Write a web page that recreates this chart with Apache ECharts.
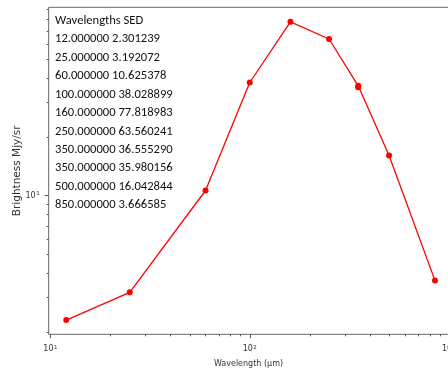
<!DOCTYPE html>
<html><head><meta charset="utf-8">
<script src="https://cdn.jsdelivr.net/npm/echarts@6/dist/echarts.min.js"></script>
<style>html,body{margin:0;padding:0;background:#fff}#c{width:448px;height:371px}</style>
</head><body><div id="c"></div>
<script>
const wavelengths = [12, 25, 60, 100, 160, 250, 350, 350, 500, 850];
const brightness = [2.301239, 3.192072, 10.625378, 38.028899, 77.818983, 63.560241, 36.555290, 35.980156, 16.042844, 3.666585];
const xMajorTicks = [10, 100, 1000];
const xMinorTicks = [20, 30, 40, 50, 60, 70, 80, 90, 200, 300, 400, 500, 600, 700, 800, 900];
const yMajorTicks = [10];
const yMinorTicks = [2, 3, 4, 5, 6, 7, 8, 9, 20, 30, 40, 50, 60, 70, 80, 90];

const infoLines = ['Wavelengths SED'].concat(
  wavelengths.map((w, i) => w.toFixed(6) + ' ' + brightness[i].toFixed(6))
);

const fmt = v => '{b|10}{s|' + Math.round(Math.log10(v)) + '}';
const rich = {
  b: {fontFamily: 'DejaVu Sans', fontSize: 8, color: '#333', lineHeight: 10},
  s: {fontFamily: 'DejaVu Sans', fontSize: 5.5, color: '#333', lineHeight: 10, verticalAlign: 'top', padding: [0, 0, 0, 0.5]}
};
const XMIN = 9.8, XMAX = 1050, YMIN = 1.945, YMAX = 92.4;
const tickLine = {color: '#555', width: 1};
const LINE_STEP = 18.45;

const chart = echarts.init(document.getElementById('c'));
chart.setOption({
  animation: false,
  graphic: infoLines.map((t, i) => ({
    type: 'text', x: 55, y: 20.7 + i * LINE_STEP, z: 10,
    style: {text: t, fontFamily: 'Carlito, Lato, sans-serif', fontSize: 12.6, fill: '#111', verticalAlign: 'middle', align: 'left'}
  })),
  grid: {left: 48.7, top: 7.3, width: 404.6, height: 327, outerBoundsMode: 'none', containLabel: false,
    show: true, borderColor: '#666', borderWidth: 1, backgroundColor: 'transparent'},
  xAxis: [{
    type: 'log', min: XMIN, max: XMAX, position: 'bottom',
    name: 'Wavelength (\u00b5m)', nameLocation: 'middle', nameGap: 26, nameMoveOverlap: false,
    nameTextStyle: {fontFamily: 'DejaVu Sans', fontSize: 8, color: '#333', padding: [0, 0, 0, -5]},
    axisLine: {show: false},
    axisTick: {show: true, length: 4, lineStyle: tickLine, customValues: xMajorTicks},
    axisLabel: {customValues: xMajorTicks, formatter: fmt, rich: rich, margin: 10, hideOverlap: false},
    splitLine: {show: false}, minorTick: {show: false}
  }, {
    type: 'log', min: XMIN, max: XMAX, position: 'bottom',
    axisLine: {show: false},
    axisTick: {show: true, length: 2, lineStyle: tickLine, customValues: xMinorTicks},
    axisLabel: {show: false}, splitLine: {show: false}
  }],
  yAxis: [{
    type: 'log', min: YMIN, max: YMAX, position: 'left',
    name: 'Brightness Mjy/sr', nameLocation: 'middle', nameGap: 26, nameMoveOverlap: false,
    nameTextStyle: {fontFamily: 'DejaVu Sans', fontSize: 10.5, color: '#333'},
    axisLine: {show: false},
    axisTick: {show: true, length: 4, lineStyle: tickLine, customValues: yMajorTicks},
    axisLabel: {customValues: yMajorTicks, formatter: fmt, rich: rich, margin: 9},
    splitLine: {show: false}
  }, {
    type: 'log', min: YMIN, max: YMAX, position: 'left',
    axisLine: {show: false},
    axisTick: {show: true, length: 2, lineStyle: tickLine, customValues: yMinorTicks},
    axisLabel: {show: false}, splitLine: {show: false}
  }],
  series: [{
    type: 'line', xAxisIndex: 0, yAxisIndex: 0,
    data: wavelengths.map((w, i) => [w, brightness[i]]),
    symbol: 'circle', symbolSize: 6,
    lineStyle: {color: '#f00', width: 1.3},
    itemStyle: {color: '#f00'},
    clip: false
  }]
});
</script></body></html>
